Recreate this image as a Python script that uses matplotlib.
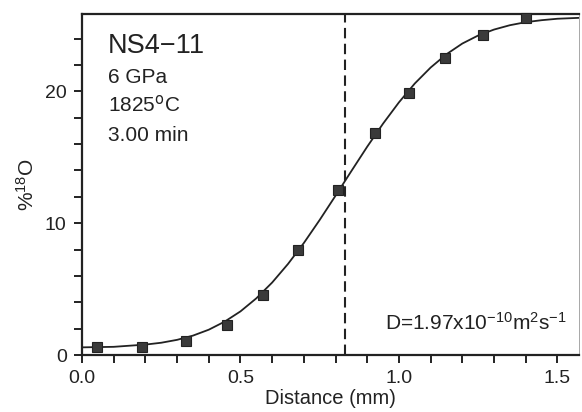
import matplotlib
matplotlib.use("Agg")
import matplotlib.pyplot as plt
from matplotlib.ticker import MultipleLocator

# measured profile (squares)
dist_mm = [0.047, 0.189, 0.328, 0.456, 0.572, 0.682, 0.809, 0.924, 1.033, 1.145, 1.266, 1.401]
pct_18o = [0.57, 0.64, 1.10, 2.26, 4.58, 7.99, 12.54, 16.83, 19.86, 22.50, 24.28, 25.60]

# fitted diffusion curve
fit_x = [0.0, 0.1, 0.2, 0.25, 0.3, 0.35, 0.4, 0.45, 0.5, 0.55, 0.6, 0.65, 0.7, 0.75,
         0.8, 0.85, 0.9, 0.95, 1.0, 1.05, 1.1, 1.15, 1.2, 1.25, 1.3, 1.35, 1.4, 1.45,
         1.5, 1.57]
fit_y = [0.58, 0.62, 0.79, 0.93, 1.15, 1.47, 1.92, 2.53, 3.31, 4.30, 5.50, 6.91, 8.50, 10.25,
         12.09, 13.96, 15.81, 17.56, 19.17, 20.60, 21.81, 22.82, 23.63, 24.24, 24.69, 25.02,
         25.25, 25.40, 25.51, 25.58]

interface_x = 0.830

sample_lines = ["6 GPa", "1825$^{\\rm o}$C", "3.00 min"]

plt.rcParams["font.family"] = ["Liberation Sans", "DejaVu Sans"]
plt.rcParams["mathtext.default"] = "regular"

ink = "#222222"
fig = plt.figure(figsize=(5.82, 4.12), dpi=100)
ax = fig.add_axes([82 / 582, 1 - 355 / 412, 497 / 582, 341 / 412])

ax.plot(fit_x, fit_y, color=ink, lw=1.3, zorder=2)
ax.plot(dist_mm, pct_18o, ls="none", marker="s", ms=7, mfc="#3a3a3a", mec="#222222",
        mew=0.8, zorder=3, clip_on=False)
ax.axvline(interface_x, color=ink, lw=1.5, dashes=(5, 2.6), zorder=1)

ax.set_xlim(0, 1.568)
ax.set_ylim(0, 25.87)
ax.xaxis.set_major_locator(MultipleLocator(0.5))
ax.xaxis.set_minor_locator(MultipleLocator(0.1))
ax.yaxis.set_major_locator(MultipleLocator(10))
ax.yaxis.set_minor_locator(MultipleLocator(2))
ax.xaxis.set_major_formatter(plt.FormatStrFormatter("%.1f"))
ax.tick_params(which="both", direction="out", color=ink, width=1.4, labelsize=14,
               labelcolor=ink, top=False, right=False)
ax.tick_params(which="major", length=6, pad=5)
ax.tick_params(which="minor", length=6)

for side in ["left", "bottom", "top"]:
    ax.spines[side].set_linewidth(1.6)
    ax.spines[side].set_color(ink)
ax.spines["right"].set_linewidth(0.6)
ax.spines["right"].set_color("#999999")

ax.set_xlabel("Distance (mm)", fontsize=14.5, color=ink, labelpad=1)
ax.set_ylabel("%$^{18}$O", fontsize=15, color=ink, labelpad=5)

ax.text(108, 412 - 53, "NS4−11", transform=None, fontsize=19.5, color=ink,
        va="baseline", ha="left")
for i, line in enumerate(sample_lines):
    ax.text(108, 412 - 83 - i * 29, line, transform=None, fontsize=15, color=ink,
            va="baseline", ha="left")
ax.text(385, 412 - 330, "D=1.97x10$^{-10}$m$^{2}$s$^{-1}$", transform=None,
        fontsize=15, color=ink, va="baseline", ha="left")

fig.savefig("out.png", dpi=100)
